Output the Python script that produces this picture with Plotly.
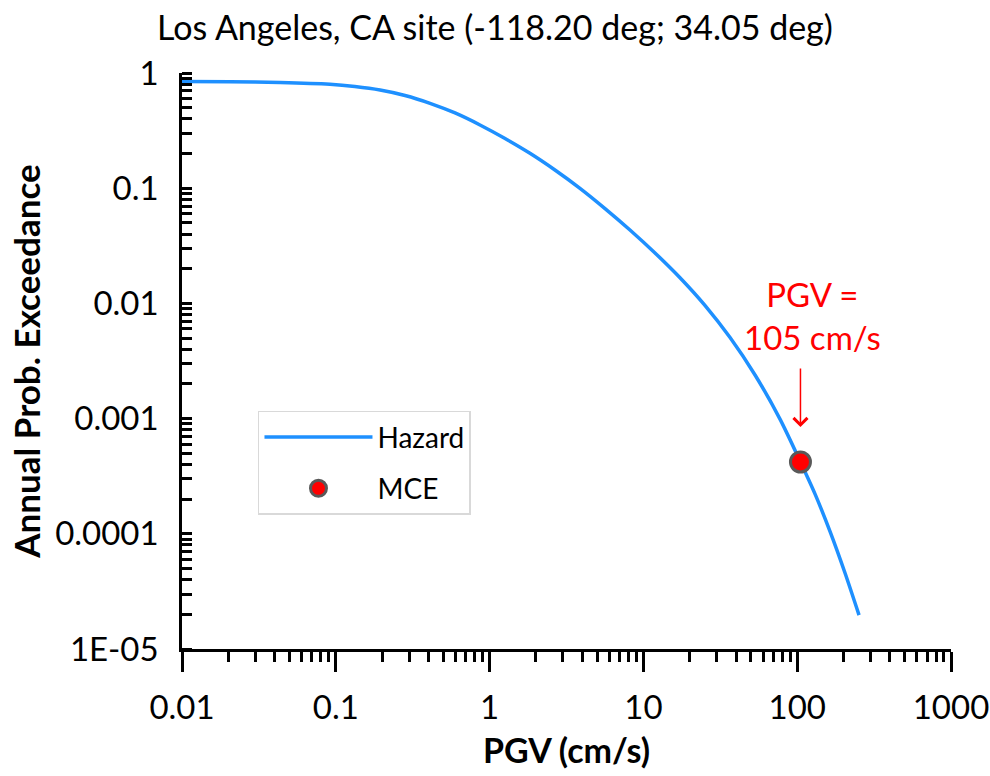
import math
import plotly.graph_objects as go

# Hazard curve (PGV in cm/s vs annual probability of exceedance)
pgv = [0.01, 0.0205, 0.0434, 0.0916, 0.133, 0.194, 0.282, 0.41, 0.596, 0.866,
       1.26, 1.83, 2.66, 3.87, 5.63, 8.18, 11.9, 17.3, 25.2, 36.6,
       53.2, 77.3, 105, 130.5, 163.4, 204.6, 252.4]
ape = [0.844, 0.839, 0.827, 0.798, 0.763, 0.712, 0.638, 0.546, 0.450, 0.354,
       0.270, 0.201, 0.144, 0.0998, 0.0666, 0.0434, 0.0274, 0.0167, 0.00957, 0.00505,
       0.00239, 0.00099, 0.00042, 0.000222, 0.000105, 4.57e-5, 1.97e-5]

# MCE point
mce_pgv = [105]
mce_ape = [0.00042]

# label position for the MCE call-out
label_pgv = 125
label_ape = 0.0078

x_tickvals = [0.01, 0.1, 1, 10, 100, 1000]
x_ticktext = ["0.01", "0.1", "1", "10", "100", "1000"]
y_tickvals = [1e-5, 1e-4, 1e-3, 1e-2, 1e-1, 1]
y_ticktext = ["1E-05", "0.0001", "0.001", "0.01", "0.1", "1"]

FONT = "Lato"

fig = go.Figure()
fig.add_trace(go.Scatter(
    x=pgv, y=ape, mode="lines", name="Hazard",
    line=dict(color="#1E90FF", width=3.5, shape="spline", smoothing=0.8),
    legendgroup="a",
))
fig.add_trace(go.Scatter(
    x=mce_pgv, y=mce_ape, mode="markers", name="MCE",
    marker=dict(color="#FF0000", size=20, line=dict(color="#595959", width=3)),
    legendgroup="b",
))

# arrow pointing to MCE (annotation coords are log10 on log axes)
fig.add_annotation(x=math.log10(mce_pgv[0]), y=math.log10(mce_ape[0]),
                   xref="x", yref="y",
                   text="", showarrow=True, ax=0, ay=-95, standoff=35,
                   arrowhead=4, arrowsize=1.8, arrowwidth=1.5, arrowcolor="#FF0000")
fig.add_annotation(x=math.log10(label_pgv), y=math.log10(label_ape),
                   xref="x", yref="y",
                   text=f"PGV =<br>{mce_pgv[0]} cm/s", showarrow=False,
                   font=dict(family=FONT, size=33, color="#FF0000"),
                   align="center")

fig.update_layout(
    width=990, height=776,
    margin=dict(l=182, r=39, t=73, b=127, autoexpand=False),
    paper_bgcolor="white", plot_bgcolor="white",
    title=dict(text="Los Angeles, CA site (-118.20 deg; 34.05 deg)",
               x=0.5, xanchor="center", y=0.964, yanchor="middle",
               font=dict(family=FONT, size=34, color="#000000")),
    font=dict(family=FONT, color="#000000"),
    showlegend=True,
    legend=dict(x=0.0988, y=0.4137, xanchor="left", yanchor="top",
                bgcolor="white", bordercolor="#D9D9D9", borderwidth=1.5,
                font=dict(family=FONT, size=28, color="#000000"),
                itemwidth=108, tracegroupgap=12, traceorder="grouped"),
)

fig.update_xaxes(
    type="log", range=[-2, 3],
    tickmode="array", tickvals=x_tickvals, ticktext=x_ticktext,
    ticks="outside", ticklen=20, tickwidth=2.5, tickcolor="black",
    ticklabelstandoff=8,
    showline=True, linecolor="black", linewidth=2.5,
    showgrid=False, zeroline=False,
    tickfont=dict(family=FONT, size=33, color="black"),
    minor=dict(ticks="outside", ticklen=10, tickwidth=2.5, tickcolor="black",
               dtick="D1", showgrid=False),
    title=dict(text="<b>PGV (cm/s)</b>", standoff=14,
               font=dict(family=FONT, size=34, color="black")),
)
fig.update_yaxes(
    type="log", range=[-5, 0],
    tickmode="array", tickvals=y_tickvals, ticktext=y_ticktext,
    ticks="", ticklabelstandoff=14,
    showline=True, linecolor="black", linewidth=2.5,
    showgrid=False, zeroline=False,
    tickfont=dict(family=FONT, size=33, color="black"),
    minor=dict(ticks="inside", ticklen=10, tickwidth=2.5, tickcolor="black",
               dtick="D1", showgrid=False),
    title=dict(text="<b>Annual Prob. Exceedance</b>", standoff=4,
               font=dict(family=FONT, size=35, color="black")),
)

fig.write_html("out.html", config={"displayModeBar": False},
               post_script="document.body.style.margin='0';")
